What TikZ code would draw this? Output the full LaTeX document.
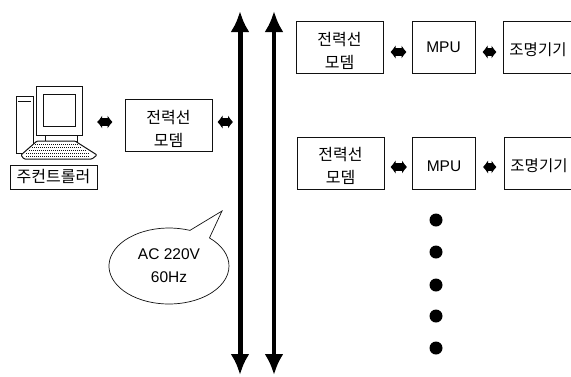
\documentclass[tikz,border=0pt]{standalone}
\usepackage{fontspec}
\usepackage{xcolor}
\usepackage{tikz}
\usetikzlibrary{arrows.meta,shapes.callouts}
\setmainfont{Liberation Sans}
\newfontfamily\krfont{Noto Sans CJK KR}
\definecolor{cInk}{HTML}{111111}
\newcommand{\lowgap}[1]{\rule{0pt}{#1pt}}

\begin{document}
\begin{tikzpicture}[
  x=1pt, y=-1pt,
  font=\fontsize{15.5}{23}\selectfont,
  box/.style={draw=cInk, fill=white, align=center, inner sep=1pt, line width=1pt,
              minimum height=52pt},
  modem/.style={box, minimum width=87pt, font=\krfont\fontsize{16}{23}\selectfont},
  mpu/.style={box, minimum width=63pt},
  lamp/.style={box, minimum width=70pt, font=\krfont\fontsize{15.5}{23}\selectfont},
  biflow/.style={{Latex[length=5pt,width=14pt]}-{Latex[length=5pt,width=14pt]}, draw=black, line width=8pt},
  bus/.style={{Latex[length=21pt,width=19pt]}-{Latex[length=21pt,width=19pt]}, draw=black},
  pcline/.style={draw=cInk, line width=1pt, fill=white},
  kbline/.style={draw=cInk, line width=1pt},
  bubble/.style={ellipse callout, draw=cInk, fill=white, align=center, line width=0.7pt,
                 minimum width=120pt, minimum height=76pt, inner sep=0pt, callout pointer arc=22},
  spot/.style={circle, fill=black, inner sep=0pt, minimum size=13pt},
]
\useasboundingbox (0,0) rectangle (571,376);

% ---- power lines
\coordinate (busAtop) at (240,11);
\coordinate (busAbot) at (240,375);
\coordinate (busBtop) at (274,11);
\coordinate (busBbot) at (274,375);
\draw[bus, line width=5pt] (busAtop) -- (busAbot);
\draw[bus, line width=4pt] (busBtop) -- (busBbot);

% ---- computer
\node[minimum width=82pt, minimum height=10pt, inner sep=0pt] (pc) at (56,122) {};
\draw[pcline] (16,96) rectangle (33,153);
\draw[kbline] (18,101) -- (31,101);
\draw[pcline] (45,135) rectangle (77,141);
\draw[pcline] (36,86) rectangle (82,135);
\draw[pcline] (43,94) rectangle (75,126);
\draw[pcline, rounded corners=1pt] (37,141) -- (75,141) -- (97,155) -- (92,159) -- (24,159) -- (21,155) -- cycle;
\foreach \yy/\xa/\xb in {144/35/78, 147/32/82, 150/29/86, 153/26/90, 156/26/90}
  \draw[kbline, densely dotted] (\xa,\yy) -- (\xb,\yy);
\node[box, minimum width=87pt, minimum height=24pt, font=\krfont\fontsize{16}{23}\selectfont] (ctrl) at (53.5,177) {주컨트롤러};

% ---- left side
\node[modem] (modemL) at (168.5,125) {\lowgap{21}전력선\\모뎀};
\draw[biflow, shorten <=0pt, shorten >=12pt] (pc.east) -- (pc.east -| modemL.west);
\draw[biflow, shorten <=5pt, shorten >=7pt] (modemL.east |- pc.east) -- (busAtop |- pc.east);
\node[bubble, callout absolute pointer={(222,211)}] (ac) at (169,266) {AC 220V\\60Hz};

% ---- upper row
\node[modem] (modemA) at (339.5,47) {\lowgap{21}전력선\\모뎀};
\node[mpu] (mpuA) at (443.5,47) {MPU};
\node[lamp] (lampA) at (538,47) {\lowgap{18}조명기기};
\coordinate (rowA) at (0,52);
\draw[biflow, shorten <=7pt, shorten >=5pt] (modemA.east |- rowA) -- (mpuA.west |- rowA);
\draw[biflow, shorten <=7pt, shorten >=6pt] (mpuA.east |- rowA) -- (lampA.west |- rowA);

% ---- lower row
\node[modem] (modemB) at (340.5,163) {\lowgap{19}전력선\\모뎀};
\node[mpu] (mpuB) at (444,163) {\lowgap{18}MPU};
\node[lamp] (lampB) at (539,163) {\lowgap{19}조명기기};
\coordinate (rowB) at (0,167);
\draw[biflow, shorten <=6pt, shorten >=5pt] (modemB.east |- rowB) -- (mpuB.west |- rowB);
\draw[biflow, shorten <=7pt, shorten >=7pt] (mpuB.east |- rowB) -- (lampB.west |- rowB);

% ---- dots
\foreach \yy [count=\ii] in {220,252,285,316,348}
  \node[spot] (spot\ii) at (436,\yy) {};
\end{tikzpicture}
\end{document}
